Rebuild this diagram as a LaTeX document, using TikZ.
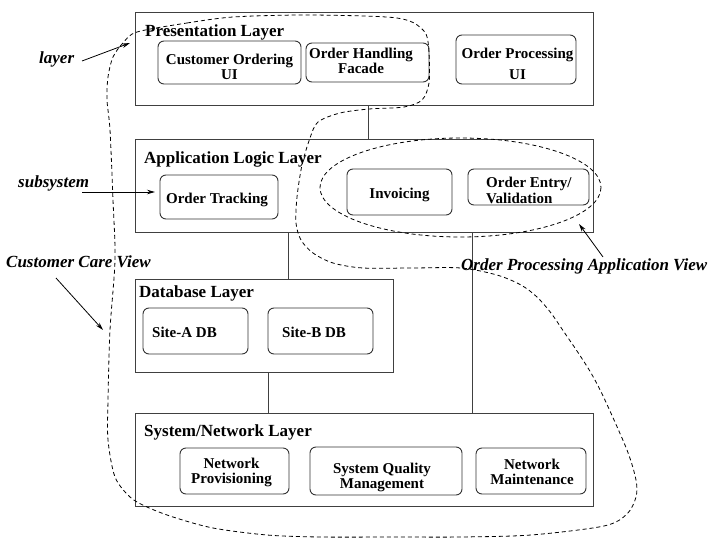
\documentclass[tikz,border=0pt]{standalone}
\usepackage{fontspec}
\setmainfont{Liberation Serif}
\usetikzlibrary{arrows.meta}
\begin{document}
\begin{tikzpicture}[x=1pt,y=-1pt,
 layerbox/.style={draw=black!75, line width=1pt, minimum width=458pt, minimum height=93pt, inner sep=0pt},
 ibox/.style={draw=black!80, line width=0.9pt, rounded corners=6pt, inner sep=0pt},
 ttl/.style={font=\fontsize{17}{20}\selectfont\bfseries, anchor=base west, inner sep=0pt},
 itxt/.style={font=\fontsize{15}{15}\selectfont\bfseries, inner sep=0pt, anchor=base, align=center},
 itxl/.style={font=\fontsize{15}{16}\selectfont\bfseries, inner sep=0pt, anchor=base west, align=left},
 lbl/.style={font=\fontsize{17}{20}\selectfont\bfseries\itshape, anchor=base west, inner sep=0pt},
 conn/.style={draw=black!75, line width=1pt},
 view/.style={draw=black, line width=0.8pt, dash pattern=on 4pt off 3pt},
 arr/.style={draw=black, line width=0.8pt, -{Stealth[length=8pt,width=4.5pt]}}]
\useasboundingbox (0,0) rectangle (728,538);

% layer boxes
\node[layerbox] (pres) at (364,58.5) {};
\node[layerbox] (app) at (364,185.5) {};
\node[layerbox, minimum width=258pt] (db) at (264,325.5) {};
\node[layerbox] (sys) at (364,459.5) {};

% titles
\node[ttl] (presT) at (145,36) {Presentation Layer};
\node[ttl] (appT) at (144,163) {Application Logic Layer};
\node[ttl] (dbT) at (139,297) {Database Layer};
\node[ttl] (sysT) at (144,436) {System/Network Layer};

% inner boxes
\node[ibox, minimum width=143pt, minimum height=43pt] (cou) at (229.5,62.5) {};
\node[ibox, minimum width=123pt, minimum height=39pt] (ohf) at (367.5,62.5) {};
\node[ibox, minimum width=120pt, minimum height=49pt] (opu) at (516,59.5) {};
\node[ibox, minimum width=118pt, minimum height=44pt] (otr) at (219,197) {};
\node[ibox, minimum width=105pt, minimum height=46pt] (inv) at (399.5,192) {};
\node[ibox, minimum width=121pt, minimum height=36pt] (oev) at (528.5,187) {};
\node[ibox, minimum width=105pt, minimum height=46pt] (sa) at (195.5,331) {};
\node[ibox, minimum width=105pt, minimum height=46pt] (sb) at (320.5,331) {};
\node[ibox, minimum width=109pt, minimum height=46pt] (np) at (234.5,471) {};
\node[ibox, minimum width=152pt, minimum height=48pt] (sqm) at (386,471) {};
\node[ibox, minimum width=110pt, minimum height=46pt] (nm) at (531,471) {};

% inner texts (anchor base = baseline of the last line)
\node[itxt] (couT) at (229.5,79) {Customer Ordering\\UI};
\node[itxt] (ohfT) at (361,73) {Order Handling\\Facade};
\node[itxt] (opuT) at (517.5,79) {Order Processing\\[6pt]UI};
\node[itxt] (otrT) at (217,203) {Order Tracking};
\node[itxt] (invT) at (399.5,198) {Invoicing};
\node[itxl] (oevT) at (486,203) {Order Entry/\\Validation};
\node[itxl] (saT) at (152,337) {Site-A DB};
\node[itxl] (sbT) at (282,337) {Site-B DB};
\node[itxt] (npT) at (231.5,483) {Network\\Provisioning};
\node[itxt] (sqmT) at (382,488) {System Quality\\Management};
\node[itxt] (nmT) at (532,484) {Network\\Maintenance};

% connectors between layers
\draw[conn] ([xshift=4pt]pres.south) -- ([xshift=4pt]app.north);
\draw[conn] ([xshift=-76pt]app.south) -- ([xshift=24pt]db.north);
\draw[conn] ([xshift=108pt]app.south) -- ([xshift=108pt]sys.north);
\draw[conn] ([xshift=4pt]db.south) -- ([xshift=-96pt]sys.north);

% views
\draw[view] (460.5,187.5) ellipse [x radius=140.5, y radius=49.5];
\draw[view] plot[smooth cycle, tension=0.5] coordinates {
 (137,32) (187,23) (233,17) (300,15) (364,16) (397,18) (414,23) (426,34)
 (429,53) (429,83) (422,100) (404,107) (369,109) (340,113) (318,122) (310,138)
 (302,165) (297,197) (296,223) (301,240) (313,253) (333,263) (363,268) (412,268) (461,268)
 (497,275) (521,285) (537,297) (551,313) (564,332) (577,351) (591,373) (604,398)
 (627,450) (636,480) (636,497) (627,514) (604,526) (531,535) (460,537) (397,537)
 (320,537) (267,535) (213,528) (173,517) (147,507) (130,497) (115,477) (108,440)
 (108,400) (110,330) (115,260) (113,200) (110,130) (107,100) (108,77) (113,57) (123,43)};

% labels
\node[lbl] (lay) at (39,63) {layer};
\node[lbl] (sub) at (18,187) {subsystem};
\node[lbl] (ccv) at (6,267) {Customer Care View};
\node[lbl] (opav) at (461,270) {Order Processing Application View};

\coordinate (layHead) at (130,43);
\coordinate (subHead) at (155,192);
\coordinate (ccvHead) at (103,330);
\coordinate (opavHead) at (579,224);

\draw[arr] ([shift={(43,-2)}]lay.base west) -- (layHead);
\draw[arr] ([shift={(64,5)}]sub.base west) -- (subHead);
\draw[arr] ([shift={(50,11)}]ccv.base west) -- (ccvHead);
\draw[arr] ([shift={(142,-13)}]opav.base west) -- (opavHead);
\end{tikzpicture}
\end{document}
